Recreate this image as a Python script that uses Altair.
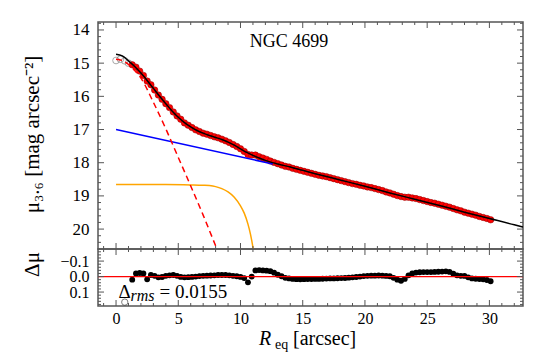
import altair as alt
import pandas as pd

# ---------------- data ----------------
R_data = [1.3, 1.6, 1.9, 2.2, 2.5, 2.8, 3.1, 3.4, 3.7, 4.0,
          4.3, 4.6, 4.9, 5.2, 5.5, 5.8, 6.1, 6.4, 6.7, 7.0,
          7.3, 7.6, 7.9, 8.2, 8.5, 8.8, 9.1, 9.4, 9.7, 10.0,
          10.3, 10.6, 10.9, 11.2, 11.5, 11.8, 12.1, 12.4, 12.7, 13.0,
          13.3, 13.6, 13.9, 14.2, 14.5, 14.8, 15.1, 15.4, 15.7, 16.0,
          16.3, 16.6, 16.9, 17.2, 17.5, 17.8, 18.1, 18.4, 18.7, 19.0,
          19.3, 19.6, 19.9, 20.2, 20.5, 20.8, 21.1, 21.4, 21.7, 22.0,
          22.3, 22.6, 22.9, 23.2, 23.5, 23.8, 24.1, 24.4, 24.7, 25.0,
          25.3, 25.6, 25.9, 26.2, 26.5, 26.8, 27.1, 27.4, 27.7, 28.0,
          28.3, 28.6, 28.9, 29.2, 29.5, 29.8, 30.1]
mu_data = [15.05, 15.12, 15.24, 15.37, 15.54, 15.65, 15.81, 15.96, 16.09, 16.22,
           16.34, 16.47, 16.59, 16.69, 16.80, 16.87, 16.94, 17.01, 17.06, 17.11,
           17.14, 17.18, 17.22, 17.25, 17.29, 17.34, 17.39, 17.45, 17.51, 17.58,
           17.66, 17.75, 17.77, 17.77, 17.82, 17.86, 17.90, 17.95, 17.99, 18.03,
           18.07, 18.11, 18.13, 18.17, 18.20, 18.23, 18.26, 18.29, 18.32, 18.35,
           18.38, 18.40, 18.42, 18.45, 18.48, 18.51, 18.54, 18.57, 18.60, 18.63,
           18.65, 18.68, 18.70, 18.73, 18.75, 18.78, 18.81, 18.84, 18.88, 18.91,
           18.95, 18.99, 19.02, 19.04, 19.04, 19.06, 19.08, 19.11, 19.14, 19.17,
           19.20, 19.22, 19.25, 19.28, 19.31, 19.34, 19.38, 19.42, 19.45, 19.49,
           19.52, 19.55, 19.58, 19.62, 19.65, 19.68, 19.72]
resid_data = [0.020, -0.020, -0.023, -0.020, 0.018, -0.010, -0.005, 0.005, 0.003, -0.005,
              -0.008, -0.010, -0.005, 0.002, 0.005, 0.004, 0.002, 0.000, -0.003, -0.005,
              -0.006, -0.007, -0.008, -0.010, -0.010, -0.010, -0.008, -0.005, -0.002, 0.002,
              0.010, 0.037, 0.000, -0.040, -0.042, -0.040, -0.038, -0.035, -0.025, -0.012,
              -0.002, 0.008, 0.012, 0.015, 0.017, 0.018, 0.017, 0.016, 0.016, 0.015,
              0.015, 0.014, 0.013, 0.012, 0.012, 0.011, 0.010, 0.009, 0.007, 0.005,
              0.003, 0.000, -0.003, -0.005, -0.006, -0.006, -0.007, -0.006, -0.004, -0.002,
              0.008, 0.020, 0.027, 0.015, -0.008, -0.020, -0.026, -0.028, -0.029, -0.029,
              -0.029, -0.030, -0.031, -0.032, -0.034, -0.030, -0.018, -0.008, -0.005, -0.004,
              0.005, 0.012, 0.014, 0.016, 0.018, 0.022, 0.030]

R_excl = [0.0, 0.35, 0.7, 1.0]
mu_excl = [14.92, 14.88, 14.93, 15.00]
resid_excl = [0.30, 0.25, 0.165, 0.22]

R_model = [0, 0.5, 1.0, 1.5, 2.0, 2.5, 3.0, 3.5, 4.0, 4.5, 5.0, 5.5, 6.0, 6.5, 7.0,
           7.5, 8.0, 8.5, 9.0, 9.5, 10.0, 10.5, 11.0, 11.5, 12.0, 12.5, 13.0, 14, 15,
           16, 18, 20, 22, 24, 26, 28, 30, 32, 32.7]
mu_model = [14.73, 14.78, 14.93, 15.10, 15.30, 15.52, 15.76, 16.00, 16.22, 16.44, 16.63,
            16.79, 16.92, 17.03, 17.11, 17.18, 17.24, 17.30, 17.38, 17.47, 17.58, 17.69,
            17.78, 17.86, 17.93, 17.99, 18.04, 18.13, 18.23, 18.33, 18.52, 18.71, 18.91,
            19.10, 19.29, 19.49, 19.68, 19.87, 19.94]

R_bulge = [0, 0.5, 1.0, 1.5, 2.0, 3.0, 4.0, 5.0, 6.0, 7.0, 8.0, 8.5]
mu_bulge = [14.88, 14.92, 15.04, 15.22, 15.45, 16.18, 16.98, 17.84, 18.70, 19.58, 20.50, 20.95]

R_disk = [0, 12.6]
mu_disk = [17.00, 18.04]

R_bar = [0, 2, 4, 6, 7, 7.5, 8.0, 8.5, 9.0, 9.5, 10.0, 10.3, 10.6, 10.8, 11.0, 11.2]
mu_bar = [18.66, 18.66, 18.66, 18.67, 18.68, 18.69, 18.72, 18.78, 18.88, 19.04, 19.30,
          19.52, 19.85, 20.15, 20.55, 21.10]

x_major = [0, 5, 10, 15, 20, 25, 30]
x_minor = [-1, 1, 2, 3, 4, 6, 7, 8, 9, 11, 12, 13, 14, 16, 17, 18, 19, 21, 22, 23, 24,
           26, 27, 28, 29, 31, 32]
y_major = [14, 15, 16, 17, 18, 19, 20]
y_minor = [13.8, 14.2, 14.4, 14.6, 14.8, 15.2, 15.4, 15.6, 15.8, 16.2, 16.4, 16.6, 16.8,
           17.2, 17.4, 17.6, 17.8, 18.2, 18.4, 18.6, 18.8, 19.2, 19.4, 19.6, 19.8,
           20.2, 20.4]
r_major = [-0.1, 0.0, 0.1]
r_minor = [-0.16, -0.14, -0.12, -0.08, -0.06, -0.04, -0.02, 0.02, 0.04, 0.06, 0.08,
           0.12, 0.14, 0.16, 0.18]

title_text = "NGC 4699"
rms_text = "= 0.0155"

# ---------------- layout / style ----------------
FONT = "Liberation Serif"
W, HT, HB = 425, 227, 57
TICK = "#555555"
MAJ, MIN = 6, 3

xs = alt.Scale(domain=[-1.45, 32.7], nice=False, zero=False)
ys_top = alt.Scale(domain=[13.76, 20.6], reverse=True, nice=False, zero=False)
ys_bot = alt.Scale(domain=[-0.178, 0.19], reverse=True, nice=False, zero=False)

top_yaxis = alt.Axis(values=y_major, format="d", ticks=False, tickSize=0, domain=False,
                     grid=False, labelPadding=9, title="μ₃.₆ [mag arcsec⁻²]",
                     titleX=-66, titleY=112, titleBaseline="middle", titleAngle=270)
bot_yaxis = alt.Axis(values=r_major, format=".1f", ticks=False, tickSize=0, domain=False,
                     grid=False, labelPadding=9, labelOverlap=False, labelFontSize=16,
                     title="Δμ", titleX=-66, titleY=15, titleBaseline="middle", titleAngle=270)
bot_xaxis = alt.Axis(values=x_major, format="d", ticks=False, tickSize=0, domain=False,
                     grid=False, labelPadding=4, labelFontSize=16, title=None)


def X(axis):
    return alt.X("x:Q", scale=xs, axis=axis)


def tick_layers(xaxis, yscale, yaxis, yvals_maj, yvals_min, H):
    layers = []
    for vals, ln in ((x_major, MAJ), (x_minor, MIN)):
        d = pd.DataFrame({"x": vals})
        b = alt.Chart(d).mark_rule(color=TICK, strokeWidth=1)
        layers.append(b.encode(x=X(xaxis), y=alt.value(H), y2=alt.value(H - ln)))
        layers.append(b.encode(x=X(xaxis), y=alt.value(0), y2=alt.value(ln)))
    for vals, ln in ((yvals_maj, MAJ), (yvals_min, MIN)):
        d = pd.DataFrame({"y": vals})
        b = alt.Chart(d).mark_rule(color=TICK, strokeWidth=1)
        yy = alt.Y("y:Q", scale=yscale, axis=yaxis)
        layers.append(b.encode(y=yy, x=alt.value(0), x2=alt.value(ln)))
        layers.append(b.encode(y=yy, x=alt.value(W), x2=alt.value(W - ln)))
    return layers


def line(xv, yv, color, dash=None):
    d = pd.DataFrame({"x": xv, "y": yv})
    kw = dict(color=color, strokeWidth=1.5, clip=True, interpolate="monotone")
    if dash:
        kw["strokeDash"] = dash
    return alt.Chart(d).mark_line(**kw).encode(
        x=X(None), y=alt.Y("y:Q", scale=ys_top, axis=top_yaxis))


YT = alt.Y("y:Q", scale=ys_top, axis=top_yaxis)
YB = alt.Y("y:Q", scale=ys_bot, axis=bot_yaxis)

excl_top = alt.Chart(pd.DataFrame({"x": R_excl, "y": mu_excl})).mark_point(
    shape="circle", filled=False, color="#777777", size=45, strokeWidth=0.9, clip=True
).encode(x=X(None), y=YT)
pts_top = alt.Chart(pd.DataFrame({"x": R_data, "y": mu_data})).mark_circle(
    color="#ff0000", size=42, opacity=1, stroke="#8b0000", strokeWidth=0.5, clip=True
).encode(x=X(None), y=YT)

label_top = alt.Chart(pd.DataFrame({"x": [13.9], "y": [14.36], "t": [title_text]})).mark_text(
    font=FONT, fontSize=18, color="black", align="center", baseline="middle"
).encode(x=X(None), y=YT, text="t:N")

top = alt.layer(
    excl_top, pts_top,
    line(R_bar, mu_bar, "#ffa500"),
    line(R_disk, mu_disk, "#0000ff"),
    line(R_bulge, mu_bulge, "#ff0000", dash=[6, 4]),
    line(R_model, mu_model, "black"),
    label_top,
    *tick_layers(None, ys_top, top_yaxis, y_major, y_minor, HT)
).properties(width=W, height=HT)

# bottom panel
excl_bot = alt.Chart(pd.DataFrame({"x": R_excl, "y": resid_excl})).mark_point(
    shape="circle", filled=False, color="#333333", size=40, strokeWidth=0.9, clip=True
).encode(x=X(bot_xaxis), y=YB)
pts_bot = alt.Chart(pd.DataFrame({"x": R_data, "y": resid_data})).mark_circle(
    color="black", size=34, opacity=1, clip=True
).encode(x=X(bot_xaxis), y=YB)
zero = alt.Chart(pd.DataFrame({"y": [0.0]})).mark_rule(color="#ff0000", strokeWidth=1.3).encode(y=YB)

rms_df = pd.DataFrame({"x": [0.2], "y": [0.1]})
rms1 = alt.Chart(rms_df).mark_text(font=FONT, fontSize=19, align="left", baseline="middle",
                                   color="black").encode(x=X(bot_xaxis), y=YB, text=alt.value("Δ"))
rms2 = alt.Chart(rms_df).mark_text(font=FONT, fontSize=16, fontStyle="italic", align="left",
                                   baseline="middle", dx=12, dy=4, color="black").encode(
    x=X(bot_xaxis), y=YB, text=alt.value("rms"))
rms3 = alt.Chart(rms_df).mark_text(font=FONT, fontSize=19, align="left", baseline="middle",
                                   dx=41, color="black").encode(
    x=X(bot_xaxis), y=YB, text=alt.value(rms_text))

tdf = pd.DataFrame({"k": [0]})
xt1 = alt.Chart(tdf).mark_text(font=FONT, fontSize=20, fontStyle="italic", align="left",
                               baseline="alphabetic", color="black").encode(
    x=alt.value(161), y=alt.value(96), text=alt.value("R"))
xt2 = alt.Chart(tdf).mark_text(font=FONT, fontSize=14, align="left", baseline="alphabetic",
                               color="black").encode(
    x=alt.value(177), y=alt.value(100), text=alt.value("eq"))
xt3 = alt.Chart(tdf).mark_text(font=FONT, fontSize=20, align="left", baseline="alphabetic",
                               color="black").encode(
    x=alt.value(195), y=alt.value(96), text=alt.value("[arcsec]"))

bottom = alt.layer(
    excl_bot, pts_bot, zero, rms1, rms2, rms3, xt1, xt2, xt3,
    *tick_layers(bot_xaxis, ys_bot, bot_yaxis, r_major, r_minor, HB)
).properties(width=W, height=HB)

chart = alt.vconcat(top, bottom, spacing=0, bounds="flush").properties(
    padding={"left": 12, "top": 12, "right": 5, "bottom": 5}
).configure_view(stroke="#555555", strokeWidth=1.5).configure_axis(
    labelFont=FONT, labelFontSize=17, labelColor="black",
    titleFont=FONT, titleFontSize=21, titleColor="black", titleFontWeight="normal"
)

chart.save("out.html", embed_options={"renderer": "svg", "actions": False})
